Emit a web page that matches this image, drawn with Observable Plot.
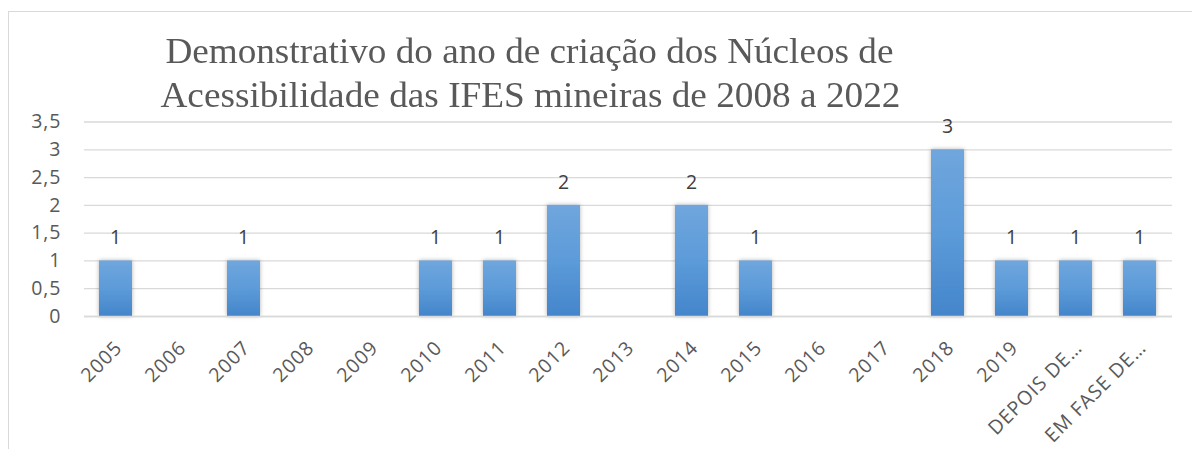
<!DOCTYPE html>
<html>
<head>
<meta charset="utf-8">
<script src="https://cdn.jsdelivr.net/npm/d3@7"></script>
<script src="https://cdn.jsdelivr.net/npm/@observablehq/plot@0.6"></script>
<style>
  html, body { margin: 0; padding: 0; background: #fff; }
  #wrap { position: relative; width: 1192px; height: 449px; overflow: hidden; background: #fff; }
  #frame { position: absolute; left: 8px; top: 11px; width: 1400px; height: 600px;
           border-left: 1.3px solid #d9d9d9; border-top: 1.3px solid #d9d9d9; pointer-events: none; }
  #title { position: relative; height: 100px; font-family: "Liberation Serif", "Times New Roman", serif;
           font-size: 36px; line-height: 36px; color: #595959; }
  #title span { position: absolute; white-space: nowrap; transform-origin: center center; }
  #chart svg { display: block; }
  #chart svg text { letter-spacing: 1px; }
</style>
</head>
<body>
<div id="wrap">
  <div id="frame"></div>
  <div id="title"></div>
  <div id="chart"></div>
</div>
<script>
// ---- data ----
const categories = ["2005","2006","2007","2008","2009","2010","2011","2012","2013","2014","2015","2016","2017","2018","2019","DEPOIS DE…","EM FASE DE…"];
const values     = [1, null, 1, null, null, 1, 1, 2, null, 2, 1, null, null, 3, 1, 1, 1];
const yTicks     = [0, 0.5, 1, 1.5, 2, 2.5, 3, 3.5];
const titleLines = ["Demonstrativo do ano de criação dos Núcleos de",
                    "Acessibilidade das IFES mineiras de 2008 a 2022"];

const data = categories.map((c, i) => ({category: c, value: values[i]}));
const withValue = data.filter(d => d.value != null);

// ---- title ----
const titleEl = document.getElementById("title");
const titleGeom = [{cx: 529, top: 33, w: 728}, {cx: 530, top: 77, w: 740}];
titleLines.forEach((t, i) => {
  const s = document.createElement("span");
  s.textContent = t;
  titleEl.appendChild(s);
  const w = s.getBoundingClientRect().width;
  s.style.left = (titleGeom[i].cx - w / 2) + "px";
  s.style.top = titleGeom[i].top + "px";
  s.style.transform = `scaleX(${titleGeom[i].w / w})`;
});

// ---- chart ----
const fmt = d => String(d).replace(".", ",");
const chart = Plot.plot({
  width: 1192,
  height: 349,
  marginTop: 21.5,
  marginBottom: 133,
  marginLeft: 84,
  marginRight: 20,
  style: {fontFamily: "'Open Sans', sans-serif", fontSize: "19px", color: "#595959", background: "transparent", overflow: "visible"},
  x: {domain: categories, paddingInner: 0.484, paddingOuter: 0.242, label: null},
  y: {domain: [0, 3.5], label: null},
  marks: [
    Plot.gridY(yTicks, {stroke: "#d9d9d9", strokeOpacity: 1, strokeWidth: 1.3}),
    Plot.axisY(yTicks, {tickSize: 0, tickPadding: 23, tickFormat: fmt, fontSize: 19.5, fill: "#595959"}),
    Plot.axisX({tickSize: 0, tickRotate: -45, tickPadding: 28, dx: 3, fontSize: 19.5, fill: "#595959", label: null}),
    Plot.barY(withValue, {x: "category", y: "value", fill: "url(#barGrad)"}),
    Plot.text(withValue, {x: "category", y: "value", text: d => fmt(d.value), dy: -23, fill: "#404040", fontSize: 19.5}),
    Plot.ruleY([0], {stroke: "#d9d9d9", strokeWidth: 1.5})
  ]
});

// gradient + shadow defs
const ns = "http://www.w3.org/2000/svg";
const defs = document.createElementNS(ns, "defs");
defs.innerHTML = `
  <linearGradient id="barGrad" x1="0" y1="0" x2="0" y2="1">
    <stop offset="0" stop-color="#70a6dd"/>
    <stop offset="0.5" stop-color="#5c9bd9"/>
    <stop offset="1" stop-color="#4485cb"/>
  </linearGradient>
  <filter id="barShadow" x="-30%" y="-30%" width="160%" height="160%">
    <feDropShadow dx="0" dy="0" stdDeviation="2" flood-color="#000" flood-opacity="0.3"/>
  </filter>`;
chart.insertBefore(defs, chart.firstChild);
const barG = chart.querySelector('g[aria-label="bar"]');
if (barG) barG.setAttribute("filter", "url(#barShadow)");

document.getElementById("chart").appendChild(chart);
</script>
</body>
</html>
